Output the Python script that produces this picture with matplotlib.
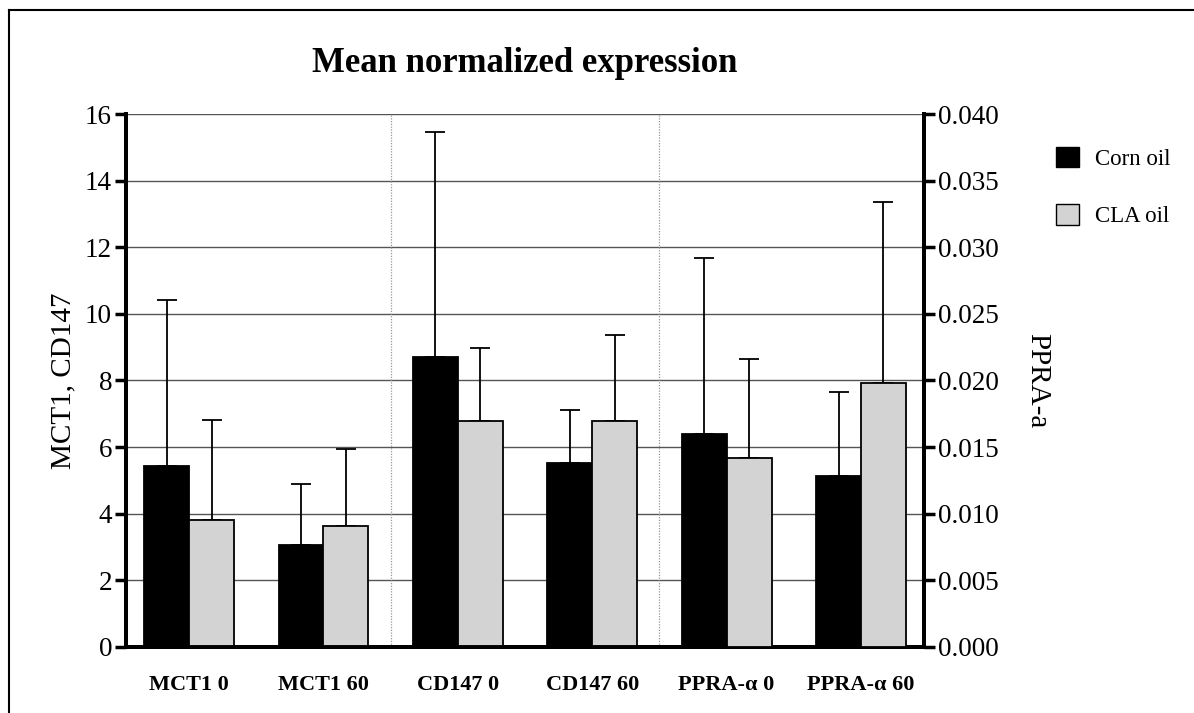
import numpy as np
import matplotlib
matplotlib.use("Agg")
import matplotlib.pyplot as plt
from matplotlib.patches import Patch
from matplotlib.lines import Line2D

plt.rcParams["font.family"] = ["Liberation Serif", "DejaVu Serif"]

# data
groups = ["MCT1 0", "MCT1 60", "CD147 0", "CD147 60", "PPRA-\u03b1 0", "PPRA-\u03b1 60"]
series = ["Corn oil", "CLA oil"]

# MCT1 / CD147 on left axis
left_corn = [5.43, 3.07, 8.71, 5.53]
left_corn_err = [4.99, 1.83, 6.75, 1.59]
left_cla = [3.81, 3.63, 6.77, 6.77]
left_cla_err = [2.99, 2.32, 2.22, 2.61]

# PPRA-a on right axis
right_corn = [0.0160, 0.0128]
right_corn_err = [0.0132, 0.0063]
right_cla = [0.0142, 0.0198]
right_cla_err = [0.0074, 0.0136]

corn_color = "black"
cla_color = "#d3d3d3"

fig = plt.figure(figsize=(11.94, 7.13), dpi=100)
ax = fig.add_axes([0.1055, 0.0926, 0.6685, 0.7475])
ax2 = ax.twinx()

w = 0.334
x = np.arange(len(groups))
xl = x[:4]
xr = x[4:]

ax.bar(xl - w / 2, left_corn, w, color=corn_color, edgecolor="black", linewidth=1.3, zorder=3)
ax.bar(xl + w / 2, left_cla, w, color=cla_color, edgecolor="black", linewidth=1.3, zorder=3)
ax.errorbar(xl - w / 2, left_corn, yerr=[np.zeros(4), left_corn_err], fmt="none",
            ecolor="black", elinewidth=1.3, capsize=7.5, capthick=1.3, zorder=2)
ax.errorbar(xl + w / 2, left_cla, yerr=[np.zeros(4), left_cla_err], fmt="none",
            ecolor="black", elinewidth=1.3, capsize=7.5, capthick=1.3, zorder=2)

ax2.bar(xr - w / 2, right_corn, w, color=corn_color, edgecolor="black", linewidth=1.3, zorder=3)
ax2.bar(xr + w / 2, right_cla, w, color=cla_color, edgecolor="black", linewidth=1.3, zorder=3)
ax2.errorbar(xr - w / 2, right_corn, yerr=[np.zeros(2), right_corn_err], fmt="none",
             ecolor="black", elinewidth=1.3, capsize=7.5, capthick=1.3, zorder=2)
ax2.errorbar(xr + w / 2, right_cla, yerr=[np.zeros(2), right_cla_err], fmt="none",
             ecolor="black", elinewidth=1.3, capsize=7.5, capthick=1.3, zorder=2)

ax.set_xlim(-0.47, 5.47)
ax.set_ylim(0, 16)
ax2.set_ylim(0, 0.04)
ax.set_yticks(np.arange(0, 17, 2))
ax2.set_yticks(np.arange(0, 0.0401, 0.005))
ax2.set_yticklabels([f"{v:.3f}" for v in np.arange(0, 0.0401, 0.005)])

ax.yaxis.grid(True, color="#555555", linewidth=1.0, zorder=0)
ax.set_axisbelow(True)
for xv in [1.5, 3.5]:
    ax.axvline(xv, color="#999999", linestyle=(0, (1, 1.2)), linewidth=0.9, zorder=1)

ax.set_xticks(x)
ax.set_xticklabels(groups, fontsize=16, fontweight="bold")
ax.tick_params(axis="x", length=0, pad=20)
ax.tick_params(axis="y", labelsize=19.5, width=2.5, length=8, pad=2)
ax2.tick_params(axis="y", labelsize=19.5, width=2.5, length=8, pad=2)

for a in (ax, ax2):
    a.spines["top"].set_visible(False)
    for s in ("left", "right", "bottom"):
        a.spines[s].set_linewidth(2.8)

ax.set_ylabel("MCT1, CD147", fontsize=21, labelpad=6)
ax2.set_ylabel("PPRA-a", fontsize=21, rotation=270, labelpad=37)
ax.set_title("Mean normalized expression", fontsize=25, fontweight="bold", pad=30)

handles = [Patch(facecolor=corn_color, edgecolor="black", linewidth=1.0),
           Patch(facecolor=cla_color, edgecolor="black", linewidth=1.0)]
fig.legend(handles, series, loc="upper left", bbox_to_anchor=(0.867, 0.823),
           frameon=False, fontsize=16.5, handlelength=1.0, handleheight=1.0,
           labelspacing=1.5, handletextpad=0.7)

# outer frame (left and top edges visible)
fig.add_artist(Line2D([9 / 1194, 9 / 1194], [0, 1 - 10 / 713], color="black", linewidth=1.5,
                      transform=fig.transFigure))
fig.add_artist(Line2D([9 / 1194, 1], [1 - 10 / 713, 1 - 10 / 713], color="black", linewidth=1.5,
                      transform=fig.transFigure))

fig.savefig("out.png", dpi=100)
